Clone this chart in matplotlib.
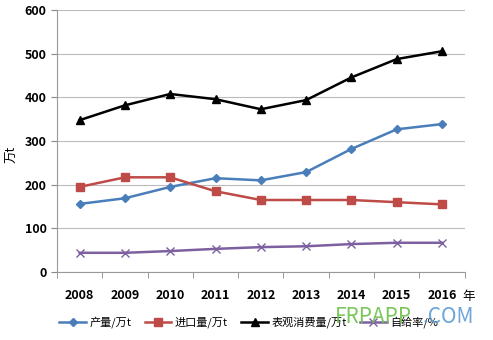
import numpy as np
import matplotlib.pyplot as plt

plt.rcParams['font.family'] = ['Noto Sans CJK SC', 'DejaVu Sans']

years = ['2008', '2009', '2010', '2011', '2012', '2013', '2014', '2015', '2016']
output = [156, 169, 195, 215, 210, 229, 282, 327, 339]
imports = [195, 217, 217, 185, 165, 165, 165, 160, 155]
consumption = [348, 382, 408, 396, 373, 394, 446, 488, 506]
self_rate = [44, 44, 48, 53, 57, 59, 64, 67, 67]

fig = plt.figure(figsize=(4.93, 3.40), dpi=100)
ax = fig.add_axes([0.1156, 0.2, 0.827, 0.77])

x = np.arange(len(years))
ax.plot(x, output, color='#4a7ebb', marker='D', markersize=4, linewidth=1.8, label='产量/万t')
ax.plot(x, imports, color='#be4b48', marker='s', markersize=6, linewidth=1.8, label='进口量/万t')
ax.plot(x, consumption, color='black', marker='^', markersize=6, linewidth=1.8, label='表观消费量/万t')
ax.plot(x, self_rate, color='#7d60a0', marker='x', markersize=6, linewidth=1.8, label='自给率/%')

ax.set_xlim(-0.5, len(years) - 0.5)
ax.set_ylim(0, 600)
ax.set_yticks(range(0, 601, 100))
ax.set_xticks(x)
ax.set_xticklabels(years)
ax.set_xticks(np.arange(-0.5, len(years), 1), minor=True)
ax.tick_params(axis='x', which='major', length=0, pad=12)
ax.tick_params(axis='x', which='minor', length=4, color='#888888')
ax.tick_params(axis='y', length=4, color='#888888')
for lab in ax.get_xticklabels() + ax.get_yticklabels():
    lab.set_fontweight('bold')
    lab.set_fontsize(9)
ax.grid(axis='y', color='#bbbbbb', linewidth=0.8)
ax.set_axisbelow(True)
for side in ['top', 'right']:
    ax.spines[side].set_visible(False)
ax.spines['left'].set_color('#999999')
ax.spines['bottom'].set_color('#999999')

fig.text(0.025, 0.545, '万t', rotation=90, fontsize=9, va='center', ha='center')
fig.text(0.937, 0.128, '年', fontsize=9, va='center')

ax.legend(loc='upper center', bbox_to_anchor=(0.47, -0.13), ncol=4, frameon=False,
          fontsize=8, handlelength=2.4, columnspacing=1.2, handletextpad=0.3)

# watermark
fig.text(0.68, 0.068, 'FRPAPP', color='#6cc24a', fontsize=15, alpha=0.9, va='center')
fig.text(0.856, 0.068, '.COM', color='#5b9bd5', fontsize=15, alpha=0.9, va='center')

fig.savefig('out.png', dpi=100)
